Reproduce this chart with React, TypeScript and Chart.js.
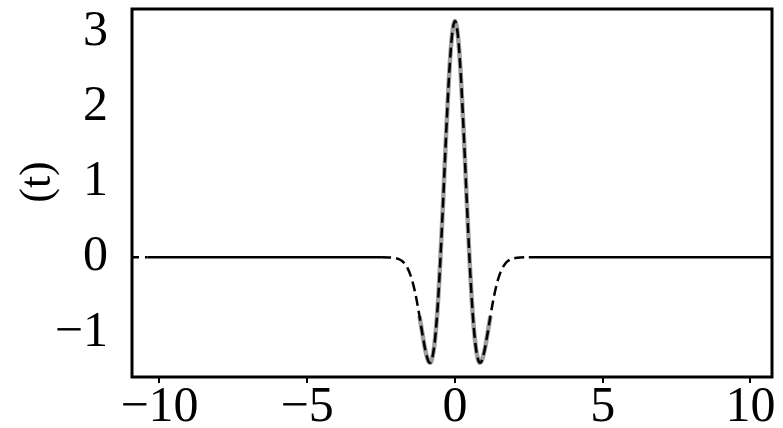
import React, { useEffect, useRef } from "react";
import { Chart, registerables } from "chart.js";

Chart.register(...registerables);

const T_VALUES = [
  -10.93, -10.4, -8, -6, -4, -3, -2.5, -2.2, -2.0, -1.9, -1.8, -1.7, -1.6, -1.5, -1.4, -1.3, -1.2, -1.1, -1.0,
  -0.9, -0.85, -0.8, -0.7, -0.6, -0.5, -0.4, -0.3, -0.2, -0.1, 0,
  0.1, 0.2, 0.3, 0.4, 0.5, 0.6, 0.7, 0.8, 0.85, 0.9,
  1.0, 1.1, 1.2, 1.3, 1.4, 1.5, 1.6, 1.7, 1.8, 1.9, 2.0, 2.2, 2.5, 3, 4, 6, 8, 10.73,
];
const PSI_VALUES = [
  0, 0, 0, 0, 0, 0, 0, -0.002, -0.012, -0.024, -0.046, -0.084, -0.147, -0.242, -0.379, -0.561, -0.782, -1.02, -1.238,
  -1.38, -1.401, -1.38, -1.178, -0.742, -0.078, 0.75, 1.627, 2.407, 2.947, 3.14,
  2.947, 2.407, 1.627, 0.75, -0.078, -0.742, -1.178, -1.38, -1.401, -1.38,
  -1.238, -1.02, -0.782, -0.561, -0.379, -0.242, -0.147, -0.084, -0.046, -0.024, -0.012, -0.002, 0, 0, 0, 0, 0, 0,
];
const X_TICKS = [-10, -5, 0, 5, 10];
const Y_TICKS = [-1, 0, 1, 2, 3];
const X_MIN = -10.93;
const X_MAX = 10.73;
const Y_MIN = -1.59;
const Y_MAX = 3.3;
const Y_LABEL = "(t)";

const fmt = (v: number) => (v < 0 ? "\u2212" + Math.abs(v) : String(v));

export default function App() {
  const ref = useRef<HTMLCanvasElement>(null);

  useEffect(() => {
    if (!ref.current) return;
    const points = T_VALUES.map((x, i) => ({ x, y: PSI_VALUES[i] }));
    const grayPoints = points.filter((p) => Math.abs(p.x) <= 1.2);

    const frame = {
      id: "frame",
      afterDraw(chart: any) {
        const { ctx, chartArea: a } = chart;
        ctx.save();
        ctx.strokeStyle = "#000";
        ctx.lineWidth = 3;
        ctx.strokeRect(a.left, a.top, a.right - a.left, a.bottom - a.top);
        ctx.fillStyle = "#000";
        ctx.font = '44px "Liberation Serif"';
        ctx.translate(38, 182);
        ctx.rotate(-Math.PI / 2);
        ctx.textAlign = "center";
        ctx.textBaseline = "middle";
        ctx.fillText(Y_LABEL, 0, 0);
        ctx.restore();
      },
    };

    const chart = new Chart(ref.current, {
      type: "line",
      data: {
        datasets: [
          {
            data: points,
            borderColor: "#000",
            borderWidth: 2.5,
            pointRadius: 0,
            cubicInterpolationMode: "monotone",
            segment: {
              borderDash: (ctx: any) => {
                const x0 = ctx.p0.parsed.x;
                const x1 = ctx.p1.parsed.x;
                if (x1 <= -10.4) return [7, 6];
                if (x0 >= -2.5 && x1 <= 2.5) return [10, 5];
                return [];
              },
            },
            order: 0,
          } as any,
          {
            data: grayPoints,
            borderColor: "#a0a0a0",
            borderWidth: 4.5,
            pointRadius: 0,
            cubicInterpolationMode: "monotone",
            order: 1,
          } as any,
        ],
      },
      options: {
        animation: false,
        responsive: true,
        maintainAspectRatio: false,
        layout: { padding: { top: 9, right: 11, left: 0, bottom: 0 } },
        plugins: { legend: { display: false }, tooltip: { enabled: false } },
        scales: {
          x: {
            type: "linear",
            min: X_MIN,
            max: X_MAX,
            afterBuildTicks: (s: any) => {
              s.ticks = X_TICKS.map((v) => ({ value: v }));
            },
            afterFit: (s: any) => {
              s.height = 51;
              s.paddingLeft = 0;
              s.paddingRight = 0;
            },
            grid: {
              display: true,
              drawOnChartArea: false,
              drawTicks: true,
              tickLength: 6,
              color: "#000",
              lineWidth: 2,
            },
            border: { display: false },
            ticks: {
              color: "#000",
              padding: 0,
              maxRotation: 0,
              autoSkip: false,
              font: { family: '"Liberation Serif"', size: 50, lineHeight: 1 },
              callback: (v: any) => fmt(Number(v)),
            },
          },
          y: {
            type: "linear",
            min: Y_MIN,
            max: Y_MAX,
            afterBuildTicks: (s: any) => {
              s.ticks = Y_TICKS.map((v) => ({ value: v }));
            },
            afterFit: (s: any) => {
              s.width = 132;
              s.paddingTop = 0;
              s.paddingBottom = 0;
            },
            grid: { display: false, drawTicks: false },
            border: { display: false },
            ticks: {
              color: "#000",
              padding: 24,
              autoSkip: false,
              font: { family: '"Liberation Serif"', size: 50, lineHeight: 1 },
              callback: (v: any) => fmt(Number(v)),
            },
          },
        },
      },
      plugins: [frame],
    });
    return () => chart.destroy();
  }, []);

  return (
    <div style={{ position: "fixed", left: 0, top: 0, width: 783, height: 428, background: "#fff" }}>
      <canvas ref={ref} />
    </div>
  );
}
